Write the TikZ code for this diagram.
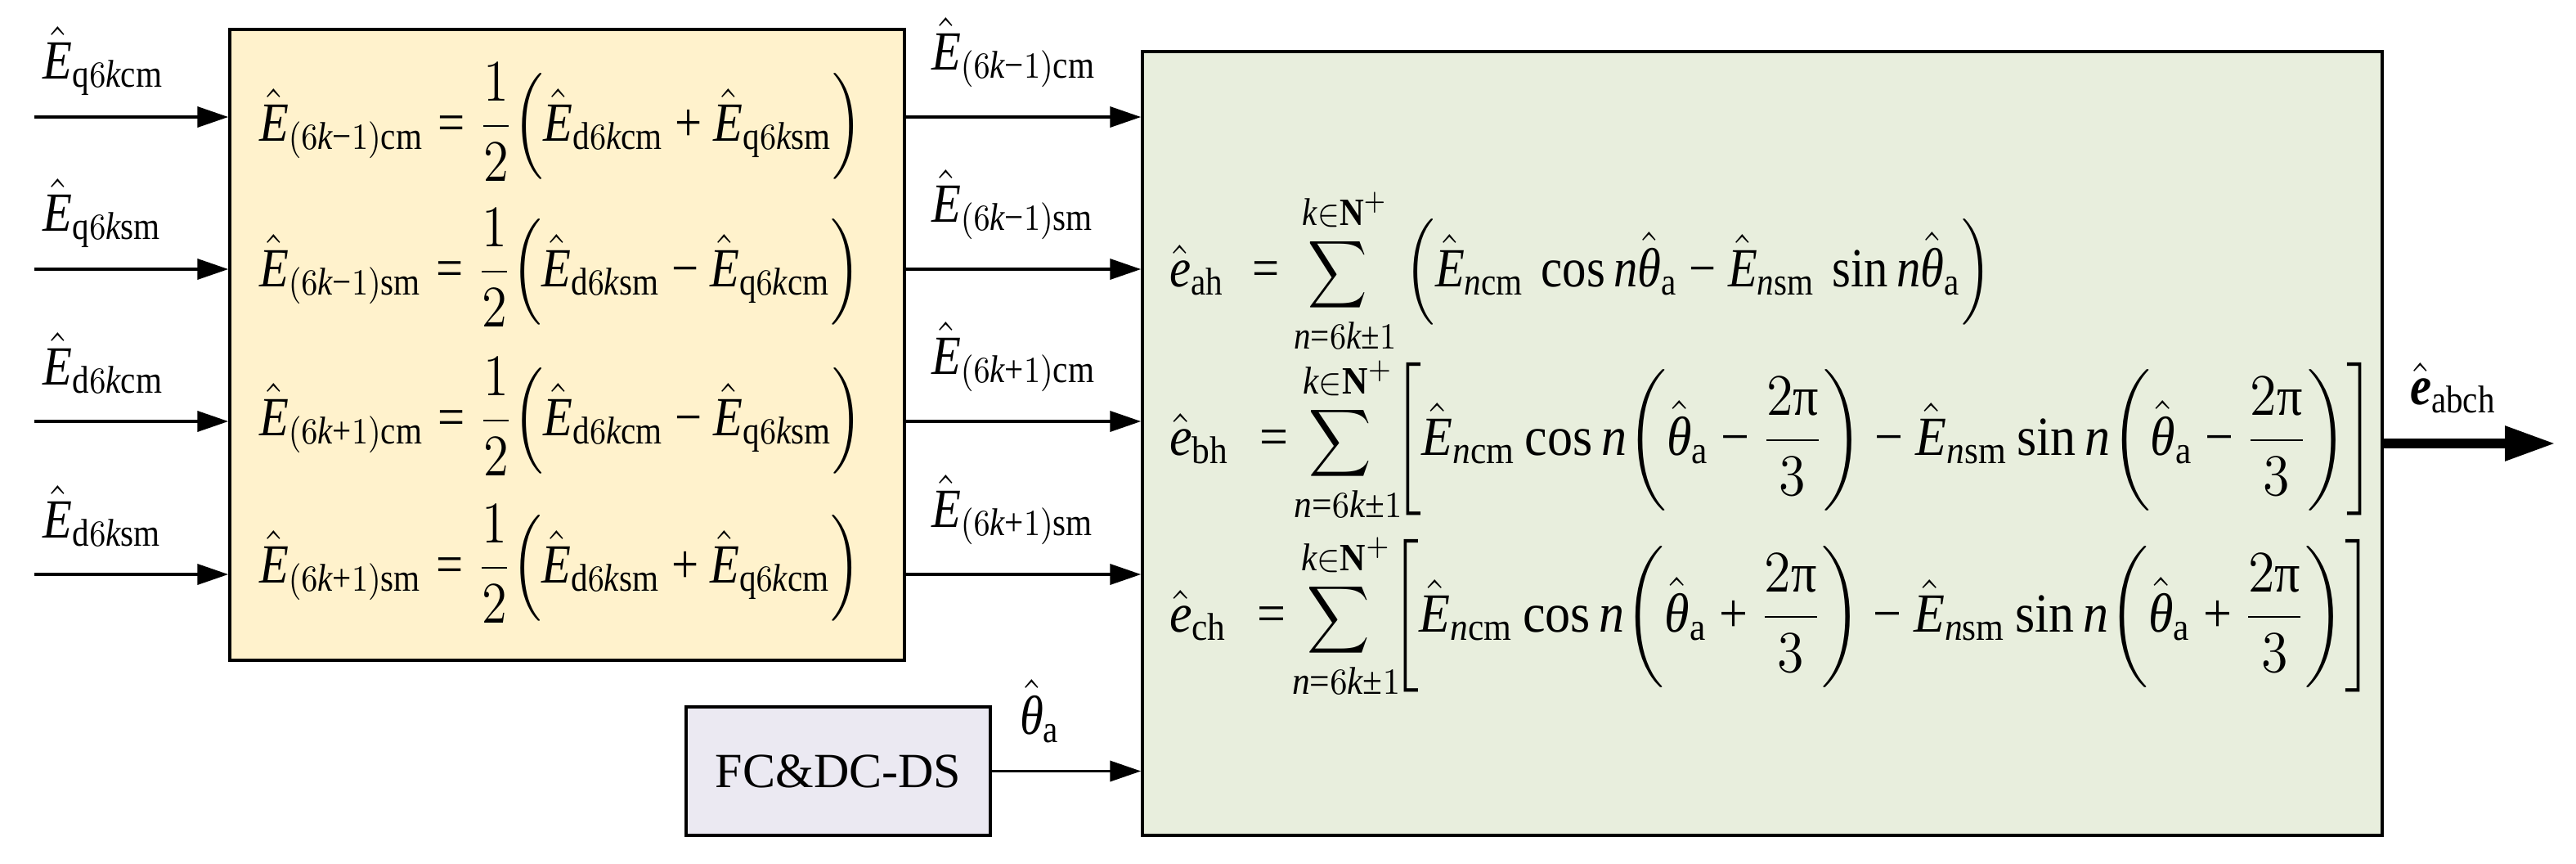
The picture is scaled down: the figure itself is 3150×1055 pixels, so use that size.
\documentclass[tikz,border=0pt]{standalone}
\usepackage{amsmath}
\usepackage{graphicx}
\usepackage{fontspec}
\setmainfont{Liberation Serif}
\usetikzlibrary{arrows.meta,fit,positioning}
\definecolor{ybox}{HTML}{FFF2CC}
\definecolor{gbox}{HTML}{E8EEDD}
\definecolor{pbox}{HTML}{EBE9F2}
\newcommand{\xE}{\mathit{E}}
\newcommand{\xk}{\mathit{k}}
\newcommand{\xn}{\mathit{n}}
\newcommand{\xe}{\mathit{e}}
\newcommand{\xth}{\textit{θ}}
\newcommand{\xpi}{\textup{π}}
\newcommand{\xhE}{\hat{\xE}}
\newcommand{\xhth}{\hat{\xth}}
\newcommand{\xm}{\mathbin{\textrm{−}}}
\newcommand{\xp}{\mathbin{\textrm{+}}}
\newcommand{\xpm}{\mathbin{\textrm{±}}}
\newcommand{\xeq}{\mathrel{\textrm{=}}}
\newcommand{\xsum}{\mathop{\scalebox{0.8}{$\displaystyle\sum$}}\limits}
\newcommand{\xlim}[1]{\xsum_{\xn\xeq6\xk\xpm1}^{\xk\in\mathbf{N}^{+}}}
\newcommand{\xlb}{\mathopen{\scalebox{1}[1.08]{$\biggl[$}}}
\newcommand{\xrb}{\mathclose{\scalebox{1}[1.08]{$\biggr]$}}}
\tikzset{
  blockbox/.style={draw=black,line width=0.7pt,inner sep=0pt},
  arr/.style={line width=0.75pt,-{Triangle[length=7.6pt,width=5pt]}},
  bigarr/.style={line width=2.4pt,-{Triangle[length=12.4pt,width=8pt]}},
  mth/.style={inner sep=0pt,outer sep=0pt,anchor=base west,xscale=0.87,transform shape,font=\fontsize{13.5}{16}\selectfont},
  mthw/.style={mth,xscale=0.92/0.87},
  txt/.style={inner sep=0pt,font=\fontsize{12}{14}\selectfont},
}
\begin{document}
\begin{tikzpicture}[x=0.2pt,y=-0.2pt]
\useasboundingbox (0,0) rectangle (3150,1055);
% boxes
\coordinate (y1) at (281,36); \coordinate (y2) at (1106,807);
\coordinate (g1) at (1397,63); \coordinate (g2) at (2913,1021);
\coordinate (p1) at (839,864); \coordinate (p2) at (1211,1021);
\node[blockbox,fill=ybox,fit=(y1)(y2)] (Y) {};
\node[blockbox,fill=gbox,fit=(g1)(g2)] (G) {};
\node[blockbox,fill=pbox,fit=(p1)(p2)] (P) {};
\node[txt] (ptext) at (P.center) {FC\&DC-DS};
% input coordinates
\coordinate (i1) at (42,143);
\coordinate (i2) at (42,329);
\coordinate (i3) at (42,515);
\coordinate (i4) at (42,702);
\foreach \k in {1,2,3,4}{
  \draw[arr] (i\k) -- (i\k -| Y.west);
  \draw[arr] (i\k -| Y.east) -- (i\k -| G.west);
}
\draw[arr] (P.east) -- (P.east -| G.west);
\coordinate (out) at (3125,542);
\draw[bigarr] (out -| G.east) -- (out);
% input labels
\node[mth] (li1) at (53,96)  {$\xhE_{\mathrm{q}6\xk\mathrm{cm}}$};
\node[mth] (li2) at (53,282) {$\xhE_{\mathrm{q}6\xk\mathrm{sm}}$};
\node[mth] (li3) at (53,470) {$\xhE_{\mathrm{d}6\xk\mathrm{cm}}$};
\node[mth] (li4) at (53,657) {$\xhE_{\mathrm{d}6\xk\mathrm{sm}}$};
% middle labels
\node[mth] (lm1) at (1139,85)  {$\xhE_{(6\xk\xm1)\mathrm{cm}}$};
\node[mth] (lm2) at (1139,271) {$\xhE_{(6\xk\xm1)\mathrm{sm}}$};
\node[mth] (lm3) at (1139,457) {$\xhE_{(6\xk\xp1)\mathrm{cm}}$};
\node[mth] (lm4) at (1139,644) {$\xhE_{(6\xk\xp1)\mathrm{sm}}$};
\node[mth] (lth) at (1247,897) {$\xhth_{\mathrm{a}}$};
\node[mth] (lout) at (2947,494) {$\hat{\textbf{\textit{e}}}_{\mathrm{abch}}$};
% yellow equations
\node[mth] (ey1) at (317,172) {$\displaystyle \xhE_{(6\xk\xm1)\mathrm{cm}} \xeq \frac{1}{2}\Bigl(\xhE_{\mathrm{d}6\xk\mathrm{cm}} \xp \xhE_{\mathrm{q}6\xk\mathrm{sm}}\Bigr)$};
\node[mth] (ey2) at (317,350) {$\displaystyle \xhE_{(6\xk\xm1)\mathrm{sm}} \xeq \frac{1}{2}\Bigl(\xhE_{\mathrm{d}6\xk\mathrm{sm}} \xm \xhE_{\mathrm{q}6\xk\mathrm{cm}}\Bigr)$};
\node[mth] (ey3) at (317,532) {$\displaystyle \xhE_{(6\xk\xp1)\mathrm{cm}} \xeq \frac{1}{2}\Bigl(\xhE_{\mathrm{d}6\xk\mathrm{cm}} \xm \xhE_{\mathrm{q}6\xk\mathrm{sm}}\Bigr)$};
\node[mth] (ey4) at (317,712) {$\displaystyle \xhE_{(6\xk\xp1)\mathrm{sm}} \xeq \frac{1}{2}\Bigl(\xhE_{\mathrm{d}6\xk\mathrm{sm}} \xp \xhE_{\mathrm{q}6\xk\mathrm{cm}}\Bigr)$};
% green equations
\node[mth] (ega) at (1430,350) {$\displaystyle \hat{\xe}_{\mathrm{ah}} \;\xeq \xlim{} \,\Bigl(\xhE_{\xn\mathrm{cm}}\,\cos \xn\xhth_{\mathrm{a}} \xm \xhE_{\xn\mathrm{sm}}\,\sin \xn\xhth_{\mathrm{a}}\Bigr)$};
\node[mthw] (egb) at (1430,556) {$\displaystyle \hat{\xe}_{\mathrm{bh}} \;\xeq\! \xlim{} \!\xlb\xhE_{\xn\mathrm{cm}}\cos \xn\biggl(\xhth_{\mathrm{a}} \xm \frac{2\xpi}{3}\biggr) \xm \xhE_{\xn\mathrm{sm}}\sin \xn\biggl(\xhth_{\mathrm{a}} \xm \frac{2\xpi}{3}\biggr)\xrb$};
\node[mthw] (egc) at (1430,772) {$\displaystyle \hat{\xe}_{\mathrm{ch}} \;\xeq\! \xlim{} \!\xlb\xhE_{\xn\mathrm{cm}}\cos \xn\biggl(\xhth_{\mathrm{a}} \xp \frac{2\xpi}{3}\biggr) \xm \xhE_{\xn\mathrm{sm}}\sin \xn\biggl(\xhth_{\mathrm{a}} \xp \frac{2\xpi}{3}\biggr)\xrb$};
\end{tikzpicture}
\end{document}
